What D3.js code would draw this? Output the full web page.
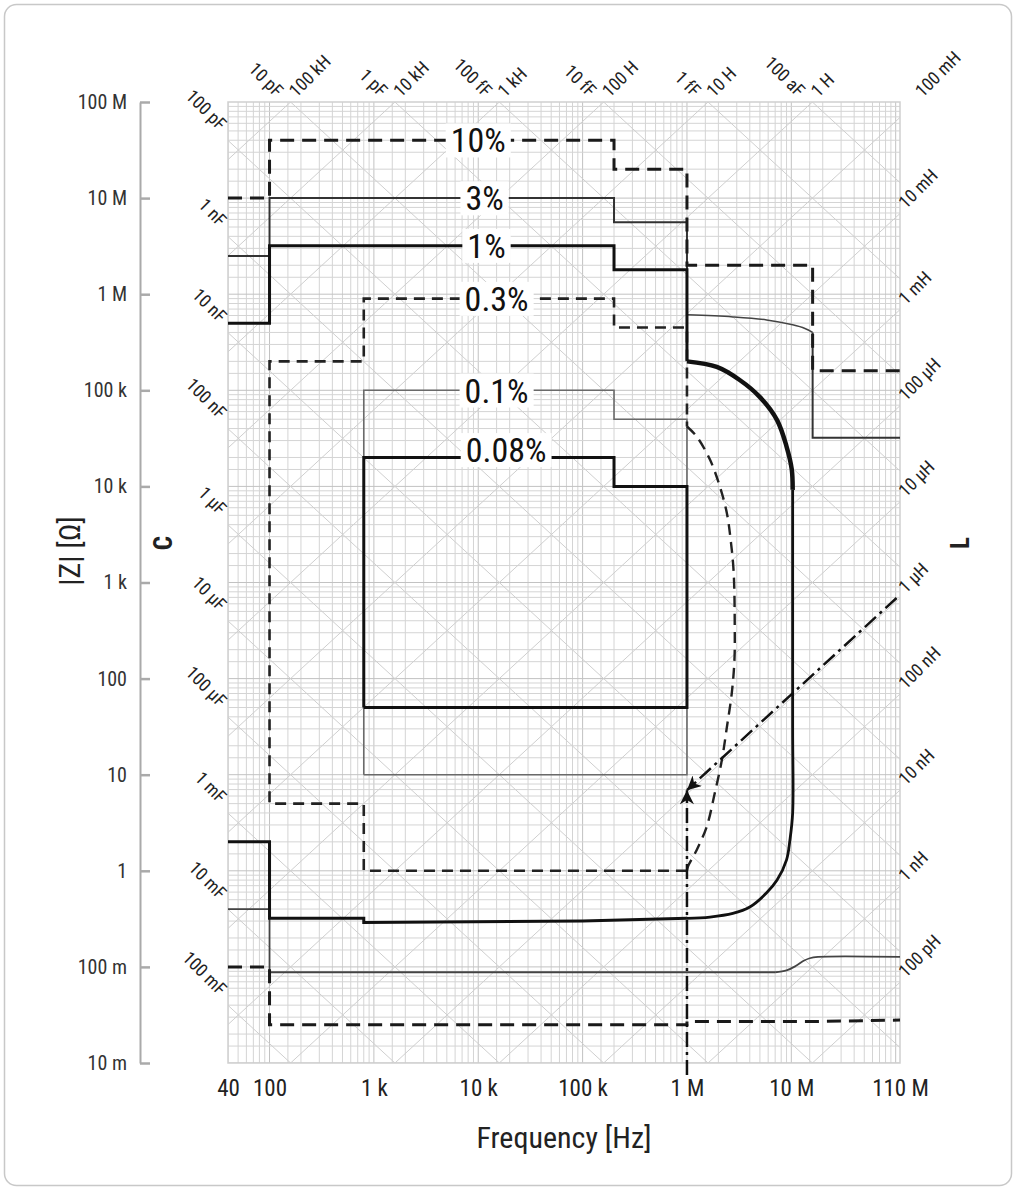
<!DOCTYPE html>
<html>
<head>
<meta charset="utf-8">
<script src="https://cdn.jsdelivr.net/npm/d3@7"></script>
<style>
  body { margin: 0; background: #fff; }
  svg text { font-family: "Liberation Sans Narrow", "Arial Narrow", "Roboto Condensed", "DejaVu Sans Condensed", sans-serif; }
</style>
</head>
<body>
<div id="chart"></div>
<script>
// axes: frequency [Hz] against |Z| [ohm], both log
const freqDomain = [40, 110e6];
const zDomain = [0.01, 1e8];
const freqTicks = [40, 100, 1e3, 1e4, 1e5, 1e6, 1e7, 110e6];
const freqTickLabels = ['40', '100', '1 k', '10 k', '100 k', '1 M', '10 M', '110 M'];
const zTicks = [1e8, 1e7, 1e6, 1e5, 1e4, 1e3, 100, 10, 1, 0.1, 0.01];
const zTickLabels = ['100 M', '10 M', '1 M', '100 k', '10 k', '1 k', '100', '10', '1', '100 m', '10 m'];

// reference lines of constant C and L
const capLeft = [1e-10, 1e-9, 1e-8, 1e-7, 1e-6, 1e-5, 1e-4, 1e-3, 1e-2, 0.1];
const capLeftLabels = ['100 pF', '1 nF', '10 nF', '100 nF', '1 µF', '10 µF', '100 µF', '1 mF', '10 mF', '100 mF'];
const capTop = [1e-11, 1e-12, 1e-13, 1e-14, 1e-15, 1e-16];
const capTopLabels = ['10 pF', '1 pF', '100 fF', '10 fF', '1 fF', '100 aF'];
const indTop = [1e5, 1e4, 1e3, 100, 10, 1, 0.1];
const indTopLabels = ['100 kH', '10 kH', '1 kH', '100 H', '10 H', '1 H', '100 mH'];
const indRight = [1e-2, 1e-3, 1e-4, 1e-5, 1e-6, 1e-7, 1e-8, 1e-9, 1e-10];
const indRightLabels = ['10 mH', '1 mH', '100 µH', '10 µH', '1 µH', '100 nH', '10 nH', '1 nH', '100 pH'];

// accuracy contours, [frequency, |Z|]
const pct10Upper = [[40, 1e7], [100, 1e7], [100, 4e7], [200e3, 4e7], [200e3, 2e7], [1e6, 2e7],
  [1e6, 2e6], [16e6, 2e6], [16e6, 1.6e5], [110e6, 1.6e5]];
const pct10Lower = [[40, 0.1], [100, 0.1], [100, 0.025], [1e6, 0.025], [1e6, 0.027], [16e6, 0.027], [110e6, 0.028]];

const pct3UpperSteps = [[40, 2.5e6], [100, 2.5e6], [100, 1e7], [200e3, 1e7], [200e3, 5.6e6], [1e6, 5.6e6], [1e6, 6.1e5]];
const pct3UpperCurve = [[1e6, 6.1e5], [2.75e6, 5.8e5], [5.8e6, 5.4e5], [10.3e6, 4.8e5], [13.5e6, 4.4e5], [16e6, 4e5]];
const pct3UpperTail = [[16e6, 4e5], [16e6, 3.2e4], [110e6, 3.2e4]];
const pct3LowerSteps = [[40, 0.4], [100, 0.4], [100, 0.088], [7e6, 0.088]];
const pct3LowerCurve = [[7e6, 0.088], [9e6, 0.092], [11e6, 0.102], [13e6, 0.115], [15e6, 0.123], [18e6, 0.127], [110e6, 0.127]];

const pct1Steps = [[40, 5e5], [100, 5e5], [100, 3.2e6], [200e3, 3.2e6], [200e3, 1.8e6], [1e6, 1.8e6], [1e6, 2e5]];
const pct1Arc = [[1e6, 2e5], [1.93e6, 1.75e5], [3.2e6, 1.28e5], [5e6, 8.5e4], [7.3e6, 4.9e4], [9e6, 2.6e4],
  [10.1e6, 1.5e4], [10.3e6, 9.2e3]];
const pct1Loop = [[10.3e6, 9.2e3], [10.3e6, 30], [10.3e6, 4.0], [9.7e6, 2.1], [9e6, 1.3], [7.3e6, 0.8],
  [5.8e6, 0.59], [4e6, 0.42], [2.75e6, 0.36], [1.66e6, 0.33], [1e6, 0.32]];
const pct1Bottom = [[1e6, 0.32], [100e3, 0.3], [800, 0.29], [800, 0.32], [100, 0.32], [100, 2], [40, 2]];

const pct03Steps = [[1e6, 1], [800, 1], [800, 5], [100, 5], [100, 2e5], [800, 2e5], [800, 9e5], [200e3, 9e5],
  [200e3, 4.5e5], [1e6, 4.5e5], [1e6, 4.2e4]];
const pct03Curve = [[1e6, 4.2e4], [1.24e6, 3.3e4], [1.66e6, 1.9e4], [2.07e6, 9.9e3], [2.41e6, 5.3e3],
  [2.62e6, 2.8e3], [2.8e6, 1.3e3], [2.87e6, 344], [2.85e6, 156], [2.69e6, 71], [2.41e6, 31], [2.16e6, 14.2],
  [1.85e6, 6.5], [1.55e6, 2.9], [1.24e6, 1.65], [1.02e6, 1.1], [1e6, 1]];

const pct01 = [[800, 10], [800, 1e5], [200e3, 1e5], [200e3, 5e4], [1e6, 5e4], [1e6, 10], [800, 10]];
const pct008 = [[800, 50], [800, 2e4], [200e3, 2e4], [200e3, 1e4], [1e6, 1e4], [1e6, 50], [800, 50]];

const contourNames = ['10%', '3%', '1%', '0.3%', '0.1%', '0.08%'];
const labelFreq = [10e3, 11.5e3, 12e3, 15e3, 15e3, 18.5e3];
const labelZ = [4e7, 1e7, 3.2e6, 9e5, 1e5, 2.4e4];

// annotation arrows (dash-dot), [frequency, |Z|]
const arrowUp = [[1e6, 0.0075], [1e6, 6.9]];
const arrowDiag = [[102e6, 690], [1e6, 6.9]];

const W = 1016, H = 1190;
const plot = { left: 228, right: 900, top: 102, bottom: 1063 };
const FONT_DIAG = 18;

const svg = d3.select('#chart').append('svg')
  .attr('width', W).attr('height', H);

svg.append('rect')
  .attr('x', 4.5).attr('y', 4.5).attr('width', W - 9).attr('height', H - 9)
  .attr('rx', 12).attr('fill', '#fff').attr('stroke', '#c8c8c8').attr('stroke-width', 1.5);

const x = d3.scaleLog().domain(freqDomain).range([plot.left, plot.right]);
const y = d3.scaleLog().domain(zDomain).range([plot.bottom, plot.top]);

const defs = svg.append('defs');
defs.append('clipPath').attr('id', 'plotClip').append('rect')
  .attr('x', plot.left).attr('y', plot.top)
  .attr('width', plot.right - plot.left).attr('height', plot.bottom - plot.top);
defs.append('marker')
  .attr('id', 'arrowHead').attr('viewBox', '0 0 10 10')
  .attr('refX', 10).attr('refY', 5)
  .attr('markerWidth', 22).attr('markerHeight', 14)
  .attr('markerUnits', 'userSpaceOnUse')
  .attr('orient', 'auto')
  .append('path').attr('d', 'M0,0 L10,5 L0,10 L3,5 Z').attr('fill', '#111');

// ---- grid ----
const grid = svg.append('g').attr('clip-path', 'url(#plotClip)');
const mults = [1, 1.5, 2, 3, 4, 5, 6, 7, 8, 9];
const fGrid = [], zGrid = [];
for (let e = 1; e <= 8; e++) mults.forEach(m => fGrid.push(m * 10 ** e));
for (let e = -2; e <= 7; e++) mults.forEach(m => zGrid.push(m * 10 ** e));
const isDecade = d => Math.abs(Math.log10(d) - Math.round(Math.log10(d))) < 1e-9;

grid.selectAll('.vgrid').data(fGrid).enter().append('line')
  .attr('x1', d => x(d)).attr('x2', d => x(d))
  .attr('y1', plot.top).attr('y2', plot.bottom)
  .attr('stroke', d => isDecade(d) ? '#c2c2c2' : '#d4d4d4')
  .attr('stroke-width', 1);
grid.selectAll('.hgrid').data(zGrid).enter().append('line')
  .attr('y1', d => y(d)).attr('y2', d => y(d))
  .attr('x1', plot.left).attr('x2', plot.right)
  .attr('stroke', d => isDecade(d) ? '#c2c2c2' : '#d4d4d4')
  .attr('stroke-width', 1);

const zC = (f, c) => 1 / (2 * Math.PI * f * c);
const zL = (f, l) => 2 * Math.PI * f * l;
grid.selectAll('.cline').data(d3.range(-17, 1)).enter().append('line')
  .attr('x1', x(freqDomain[0])).attr('x2', x(freqDomain[1]))
  .attr('y1', k => y(zC(freqDomain[0], 10 ** k))).attr('y2', k => y(zC(freqDomain[1], 10 ** k)))
  .attr('stroke', '#cfcfcf').attr('stroke-width', 1);
grid.selectAll('.lline').data(d3.range(-11, 6)).enter().append('line')
  .attr('x1', x(freqDomain[0])).attr('x2', x(freqDomain[1]))
  .attr('y1', k => y(zL(freqDomain[0], 10 ** k))).attr('y2', k => y(zL(freqDomain[1], 10 ** k)))
  .attr('stroke', '#cfcfcf').attr('stroke-width', 1);

svg.append('rect')
  .attr('x', plot.left).attr('y', plot.top)
  .attr('width', plot.right - plot.left).attr('height', plot.bottom - plot.top)
  .attr('fill', 'none').attr('stroke', '#cfcfcf').attr('stroke-width', 1.5);

// ---- C / L labels ----
svg.selectAll('.capLeft').data(capLeft).enter().append('text')
  .attr('transform', c => `translate(${plot.left - 9},${y(zC(freqDomain[0], c)) - 9}) rotate(45)`)
  .attr('text-anchor', 'end').attr('font-size', FONT_DIAG).attr('fill', '#222')
  .text((c, i) => capLeftLabels[i]);
svg.selectAll('.capTop').data(capTop).enter().append('text')
  .attr('transform', c => `translate(${x(zC(zDomain[1], c)) - 15},${plot.top - 4}) rotate(45)`)
  .attr('text-anchor', 'end').attr('font-size', FONT_DIAG).attr('fill', '#222')
  .text((c, i) => capTopLabels[i]);
svg.selectAll('.indTop').data(indTop).enter().append('text')
  .attr('transform', l => `translate(${x(zDomain[1] / (2 * Math.PI * l)) + 6},${plot.top - 4}) rotate(-45)`)
  .attr('text-anchor', 'start').attr('font-size', FONT_DIAG).attr('fill', '#222')
  .text((l, i) => indTopLabels[i]);
svg.selectAll('.indRight').data(indRight).enter().append('text')
  .attr('transform', l => `translate(${plot.right + 6},${y(zL(freqDomain[1], l)) - 4}) rotate(-45)`)
  .attr('text-anchor', 'start').attr('font-size', FONT_DIAG).attr('fill', '#222')
  .text((l, i) => indRightLabels[i]);

// ---- axes ----
const yAxis = svg.append('g')
  .attr('transform', 'translate(140,0)')
  .call(d3.axisLeft(y).tickValues(zTicks).tickFormat((d, i) => zTickLabels[i])
    .tickSize(-10).tickSizeOuter(0).tickPadding(13));
yAxis.select('.domain').attr('stroke', '#aaa').attr('stroke-width', 2);
yAxis.selectAll('.tick line').attr('stroke', '#aaa').attr('stroke-width', 2.5);
yAxis.selectAll('.tick text').attr('font-size', 20).attr('fill', '#333');

const xAxis = svg.append('g')
  .attr('transform', `translate(0,${plot.bottom})`)
  .call(d3.axisBottom(x).tickValues(freqTicks).tickFormat((d, i) => freqTickLabels[i])
    .tickSize(0).tickPadding(17));
xAxis.select('.domain').remove();
xAxis.selectAll('.tick text').attr('font-size', 23).attr('fill', '#222');

svg.append('text')
  .attr('x', (plot.left + plot.right) / 2).attr('y', 1148)
  .attr('text-anchor', 'middle').attr('font-size', 30).attr('fill', '#222')
  .text('Frequency [Hz]');
svg.append('text')
  .attr('transform', 'translate(80,551) rotate(-90)')
  .attr('text-anchor', 'middle').attr('font-size', 30).attr('fill', '#222')
  .text('|Z| [Ω]');
svg.append('text')
  .attr('transform', 'translate(172,543) rotate(-90)')
  .attr('text-anchor', 'middle').attr('font-size', 25).attr('font-weight', 'bold').attr('fill', '#222')
  .text('C');
svg.append('text')
  .attr('transform', 'translate(969,543) rotate(-90)')
  .attr('text-anchor', 'middle').attr('font-size', 25).attr('font-weight', 'bold').attr('fill', '#222')
  .text('L');

// ---- contours ----
const line = d3.line().x(d => x(d[0])).y(d => y(d[1]));
const smoothLine = d3.line().x(d => x(d[0])).y(d => y(d[1])).curve(d3.curveCatmullRom.alpha(0.5));
const curves = svg.append('g').attr('fill', 'none').attr('stroke-linejoin', 'miter');

function drawPath(data, color, widthPx, dash, smooth) {
  curves.append('path').datum(data)
    .attr('d', smooth ? smoothLine : line)
    .attr('stroke', color).attr('stroke-width', widthPx)
    .attr('stroke-dasharray', dash || null);
}

drawPath(pct01, '#6a6a6a', 1.6);
drawPath(pct008, '#111', 3);
drawPath(pct03Steps, '#222', 2.6, '11,7');
drawPath(pct03Curve, '#222', 2.4, '11,7', true);
drawPath(pct3UpperSteps, '#333', 2);
drawPath(pct3UpperCurve, '#444', 1.5, null, true);
drawPath(pct3UpperTail, '#333', 2);
drawPath(pct3LowerSteps, '#444', 1.8);
drawPath(pct3LowerCurve, '#444', 1.8, null, true);
drawPath(pct1Steps, '#111', 3);
drawPath(pct1Arc, '#111', 4.5, null, true);
drawPath(pct1Loop, '#111', 2.8, null, true);
drawPath(pct1Bottom, '#111', 3);
drawPath(pct10Upper, '#1a1a1a', 3, '14,8');
drawPath(pct10Lower, '#1a1a1a', 3, '14,8');

// dash-dot arrows
[arrowUp, arrowDiag].forEach(a => {
  svg.append('path').datum(a)
    .attr('d', line)
    .attr('fill', 'none').attr('stroke', '#111').attr('stroke-width', 2.5)
    .attr('stroke-dasharray', '15,5,3,5')
    .attr('marker-end', 'url(#arrowHead)');
});

// ---- contour labels with white boxes ----
const lab = svg.append('g');
contourNames.forEach((name, i) => {
  const g = lab.append('g').attr('transform', `translate(${x(labelFreq[i])},${y(labelZ[i])})`);
  const t = g.append('text')
    .attr('text-anchor', 'middle').attr('dy', '0.36em')
    .attr('font-size', 34).attr('fill', '#111')
    .text(name);
  const bb = t.node().getBBox();
  g.insert('rect', 'text')
    .attr('x', bb.x - 5).attr('y', bb.y + 3)
    .attr('width', bb.width + 10).attr('height', bb.height - 6)
    .attr('fill', '#fff');
});
</script>
</body>
</html>
